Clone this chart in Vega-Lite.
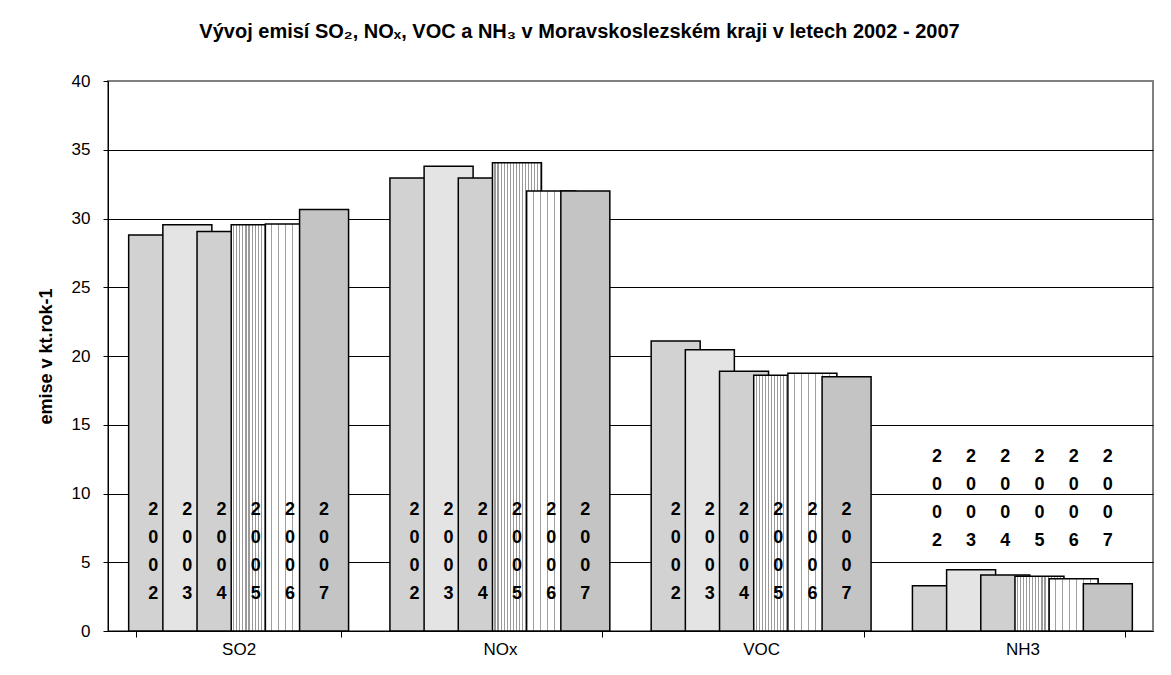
{
  "$schema": "https://vega.github.io/schema/vega-lite/v6.json",
  "width": 1045,
  "height": 550,
  "autosize": {"type": "none"},
  "padding": {"left": 108, "top": 81, "right": 18, "bottom": 44},
  "background": "white",
  "title": {
    "text": "Vývoj emisí SO₂, NOₓ, VOC a NH₃ v Moravskoslezském kraji v letech 2002 - 2007",
    "font": "Liberation Sans",
    "fontSize": 20,
    "fontWeight": "bold",
    "color": "black",
    "anchor": "middle",
    "frame": "group",
    "baseline": "middle",
    "offset": 20,
    "dx": -51
  },
  "config": {
    "view": {"stroke": "#808080", "strokeWidth": 2},
    "font": "Liberation Sans"
  },
  "data": {
    "values": [
      {"pollutant": "SO2", "year": "2002", "value": 28.8},
      {"pollutant": "SO2", "year": "2003", "value": 29.55},
      {"pollutant": "SO2", "year": "2004", "value": 29.05},
      {"pollutant": "SO2", "year": "2005", "value": 29.55},
      {"pollutant": "SO2", "year": "2006", "value": 29.6},
      {"pollutant": "SO2", "year": "2007", "value": 30.65},
      {"pollutant": "NOx", "year": "2002", "value": 32.95},
      {"pollutant": "NOx", "year": "2003", "value": 33.8},
      {"pollutant": "NOx", "year": "2004", "value": 32.95},
      {"pollutant": "NOx", "year": "2005", "value": 34.05},
      {"pollutant": "NOx", "year": "2006", "value": 32.0},
      {"pollutant": "NOx", "year": "2007", "value": 32.0},
      {"pollutant": "VOC", "year": "2002", "value": 21.1},
      {"pollutant": "VOC", "year": "2003", "value": 20.45},
      {"pollutant": "VOC", "year": "2004", "value": 18.9},
      {"pollutant": "VOC", "year": "2005", "value": 18.6},
      {"pollutant": "VOC", "year": "2006", "value": 18.75},
      {"pollutant": "VOC", "year": "2007", "value": 18.5},
      {"pollutant": "NH3", "year": "2002", "value": 3.3},
      {"pollutant": "NH3", "year": "2003", "value": 4.46},
      {"pollutant": "NH3", "year": "2004", "value": 4.07},
      {"pollutant": "NH3", "year": "2005", "value": 3.98},
      {"pollutant": "NH3", "year": "2006", "value": 3.8},
      {"pollutant": "NH3", "year": "2007", "value": 3.44}
    ]
  },
  "encoding": {
    "x": {
      "field": "pollutant",
      "type": "nominal",
      "sort": ["SO2", "NOx", "VOC", "NH3"],
      "scale": {"paddingInner": 0.215, "paddingOuter": 0.1075},
      "axis": {
        "title": null,
        "labelAngle": 0,
        "labelFontSize": 17,
        "labelColor": "black",
        "labelFont": "Liberation Sans",
        "labelPadding": 4,
        "tickBand": "extent",
        "tickColor": "black",
        "tickSize": 6,
        "domainColor": "black",
        "domainWidth": 1
      }
    },
    "xOffset": {
      "field": "year",
      "type": "nominal",
      "scale": {"paddingInner": 0, "paddingOuter": 0}
    }
  },
  "layer": [
    {
      "mark": {"type": "bar", "width": 49, "stroke": "black", "strokeWidth": 1.5},
      "encoding": {
        "y": {
          "field": "value",
          "type": "quantitative",
          "scale": {"domain": [0, 40], "nice": false},
          "axis": {
            "values": [0, 5, 10, 15, 20, 25, 30, 35, 40],
            "title": "emise v kt.rok-1",
            "titleFont": "Liberation Sans",
            "titleFontSize": 18,
            "titleFontWeight": "bold",
            "titleColor": "black",
            "titlePadding": 16,
            "labelFontSize": 17,
            "labelColor": "black",
            "labelFont": "Liberation Sans",
            "labelPadding": 13,
            "tickSize": 5,
            "tickColor": "black",
            "domainColor": "black",
            "grid": true,
            "gridColor": {"condition": {"test": "datum.value === 40", "value": "#808080"}, "value": "black"},
            "gridOpacity": 1,
            "gridWidth": 1
          }
        },
        "fill": {
          "condition": [
            {"test": "datum.year === '2002'", "value": "#d2d2d2"},
            {"test": "datum.year === '2003'", "value": "#e4e4e4"},
            {"test": "datum.year === '2004'", "value": "#d0d0d0"},
            {"test": "datum.year === '2005'", "value": {
              "gradient": "linear", "x1": 0, "y1": 0, "x2": 1, "y2": 0,
              "stops": [
                {"offset": 0, "color": "white"}, {"offset": 0.04, "color": "white"}, {"offset": 0.04, "color": "#9a9a9a"}, {"offset": 0.0625, "color": "#9a9a9a"}, {"offset": 0.0625, "color": "white"},
                {"offset": 0.1025, "color": "white"}, {"offset": 0.1025, "color": "#9a9a9a"}, {"offset": 0.125, "color": "#9a9a9a"}, {"offset": 0.125, "color": "white"},
                {"offset": 0.165, "color": "white"}, {"offset": 0.165, "color": "#9a9a9a"}, {"offset": 0.1875, "color": "#9a9a9a"}, {"offset": 0.1875, "color": "white"},
                {"offset": 0.2275, "color": "white"}, {"offset": 0.2275, "color": "#9a9a9a"}, {"offset": 0.25, "color": "#9a9a9a"}, {"offset": 0.25, "color": "white"},
                {"offset": 0.29, "color": "white"}, {"offset": 0.29, "color": "#9a9a9a"}, {"offset": 0.3125, "color": "#9a9a9a"}, {"offset": 0.3125, "color": "white"},
                {"offset": 0.3525, "color": "white"}, {"offset": 0.3525, "color": "#9a9a9a"}, {"offset": 0.375, "color": "#9a9a9a"}, {"offset": 0.375, "color": "white"},
                {"offset": 0.415, "color": "white"}, {"offset": 0.415, "color": "#9a9a9a"}, {"offset": 0.4375, "color": "#9a9a9a"}, {"offset": 0.4375, "color": "white"},
                {"offset": 0.4775, "color": "white"}, {"offset": 0.4775, "color": "#9a9a9a"}, {"offset": 0.5, "color": "#9a9a9a"}, {"offset": 0.5, "color": "white"},
                {"offset": 0.54, "color": "white"}, {"offset": 0.54, "color": "#9a9a9a"}, {"offset": 0.5625, "color": "#9a9a9a"}, {"offset": 0.5625, "color": "white"},
                {"offset": 0.6025, "color": "white"}, {"offset": 0.6025, "color": "#9a9a9a"}, {"offset": 0.625, "color": "#9a9a9a"}, {"offset": 0.625, "color": "white"},
                {"offset": 0.665, "color": "white"}, {"offset": 0.665, "color": "#9a9a9a"}, {"offset": 0.6875, "color": "#9a9a9a"}, {"offset": 0.6875, "color": "white"},
                {"offset": 0.7275, "color": "white"}, {"offset": 0.7275, "color": "#9a9a9a"}, {"offset": 0.75, "color": "#9a9a9a"}, {"offset": 0.75, "color": "white"},
                {"offset": 0.79, "color": "white"}, {"offset": 0.79, "color": "#9a9a9a"}, {"offset": 0.8125, "color": "#9a9a9a"}, {"offset": 0.8125, "color": "white"},
                {"offset": 0.8525, "color": "white"}, {"offset": 0.8525, "color": "#9a9a9a"}, {"offset": 0.875, "color": "#9a9a9a"}, {"offset": 0.875, "color": "white"},
                {"offset": 0.915, "color": "white"}, {"offset": 0.915, "color": "#9a9a9a"}, {"offset": 0.9375, "color": "#9a9a9a"}, {"offset": 0.9375, "color": "white"},
                {"offset": 0.9775, "color": "white"}, {"offset": 0.9775, "color": "#9a9a9a"}, {"offset": 1, "color": "#9a9a9a"}
              ]
            }},
            {"test": "datum.year === '2006'", "value": {
              "gradient": "linear", "x1": 0, "y1": 0, "x2": 1, "y2": 0,
              "stops": [
                {"offset": 0, "color": "white"}, {"offset": 0.121, "color": "white"}, {"offset": 0.121, "color": "#a0a0a0"}, {"offset": 0.143, "color": "#a0a0a0"}, {"offset": 0.143, "color": "white"},
                {"offset": 0.264, "color": "white"}, {"offset": 0.264, "color": "#a0a0a0"}, {"offset": 0.286, "color": "#a0a0a0"}, {"offset": 0.286, "color": "white"},
                {"offset": 0.407, "color": "white"}, {"offset": 0.407, "color": "#a0a0a0"}, {"offset": 0.429, "color": "#a0a0a0"}, {"offset": 0.429, "color": "white"},
                {"offset": 0.55, "color": "white"}, {"offset": 0.55, "color": "#a0a0a0"}, {"offset": 0.571, "color": "#a0a0a0"}, {"offset": 0.571, "color": "white"},
                {"offset": 0.693, "color": "white"}, {"offset": 0.693, "color": "#a0a0a0"}, {"offset": 0.714, "color": "#a0a0a0"}, {"offset": 0.714, "color": "white"},
                {"offset": 0.836, "color": "white"}, {"offset": 0.836, "color": "#a0a0a0"}, {"offset": 0.857, "color": "#a0a0a0"}, {"offset": 0.857, "color": "white"},
                {"offset": 0.979, "color": "white"}, {"offset": 0.979, "color": "#a0a0a0"}, {"offset": 1, "color": "#a0a0a0"}
              ]
            }}
          ],
          "value": "#c4c4c4"
        }
      }
    },
    {
      "transform": [
        {"filter": "datum.pollutant !== 'NH3'"},
        {"calculate": "split(datum.year, '')", "as": "chars"}
      ],
      "mark": {"type": "text", "font": "Liberation Sans", "fontSize": 18, "fontWeight": "bold", "color": "black", "lineHeight": 28, "baseline": "middle", "align": "center"},
      "encoding": {
        "y": {"datum": 8.8, "type": "quantitative"},
        "text": {"field": "chars", "type": "nominal"}
      }
    },
    {
      "transform": [
        {"filter": "datum.pollutant === 'NH3'"},
        {"calculate": "split(datum.year, '')", "as": "chars"}
      ],
      "mark": {"type": "text", "font": "Liberation Sans", "fontSize": 18, "fontWeight": "bold", "color": "black", "lineHeight": 28, "baseline": "middle", "align": "center"},
      "encoding": {
        "y": {"datum": 12.68, "type": "quantitative"},
        "text": {"field": "chars", "type": "nominal"}
      }
    }
  ]
}
